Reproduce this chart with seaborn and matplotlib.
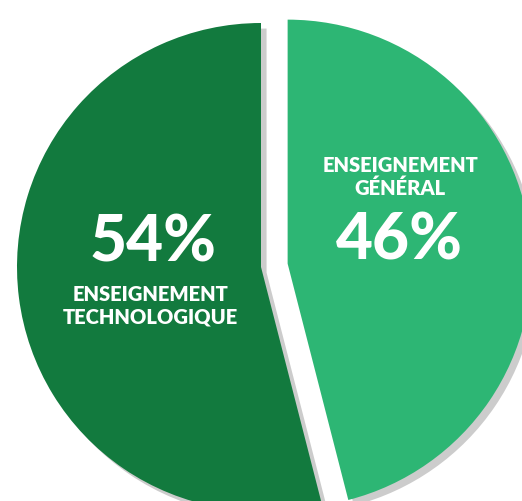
import seaborn as sns
import matplotlib
matplotlib.use("Agg")
import matplotlib.pyplot as plt
import matplotlib.patheffects as pe

# données du graphique
secteurs = ["ENSEIGNEMENT\nGÉNÉRAL", "ENSEIGNEMENT\nTECHNOLOGIQUE"]
parts = [46, 54]
couleurs = ["#2DB674", "#127A3E"]

sns.set_theme(style="white")
plt.rcParams['font.family'] = ['Lato', 'DejaVu Sans']

fig = plt.figure(figsize=(5.22, 5.01), dpi=100)
ax = fig.add_axes([0, 0, 1, 1])

wedges, _ = ax.pie(parts, colors=couleurs, startangle=90, counterclock=False,
                   explode=[0.11, 0], radius=1.0,
                   wedgeprops=dict(linewidth=0))
for w in wedges:
    w.set_path_effects([pe.SimplePatchShadow(offset=(4, -4), shadow_rgbFace='#808080', alpha=0.4),
                        pe.Normal()])

# cadrage : le camembert déborde à droite et en bas
ax.set_xlim(-261 / 244, 261 / 244)
ax.set_ylim(-234 / 244, 267 / 244)
ax.set_aspect('equal')
ax.axis('off')

# étiquettes (coordonnées en fraction de la figure)
def fx(px):
    return px / 522

def fy(py):
    return 1 - py / 501

ax.text(fx(153), fy(243), f"{parts[1]}%", transform=fig.transFigure, ha='center', va='center',
        color='white', fontsize=46, fontweight='black')
ax.text(fx(150), fy(306), secteurs[1], transform=fig.transFigure, ha='center', va='center',
        color='white', fontsize=14.5, fontweight='heavy', linespacing=1.25)

ax.text(fx(400), fy(177), secteurs[0], transform=fig.transFigure, ha='center', va='center',
        color='white', fontsize=14.5, fontweight='heavy', linespacing=1.25)
ax.text(fx(399), fy(241), f"{parts[0]}%", transform=fig.transFigure, ha='center', va='center',
        color='white', fontsize=46, fontweight='black')

plt.savefig("out.png", dpi=100)
